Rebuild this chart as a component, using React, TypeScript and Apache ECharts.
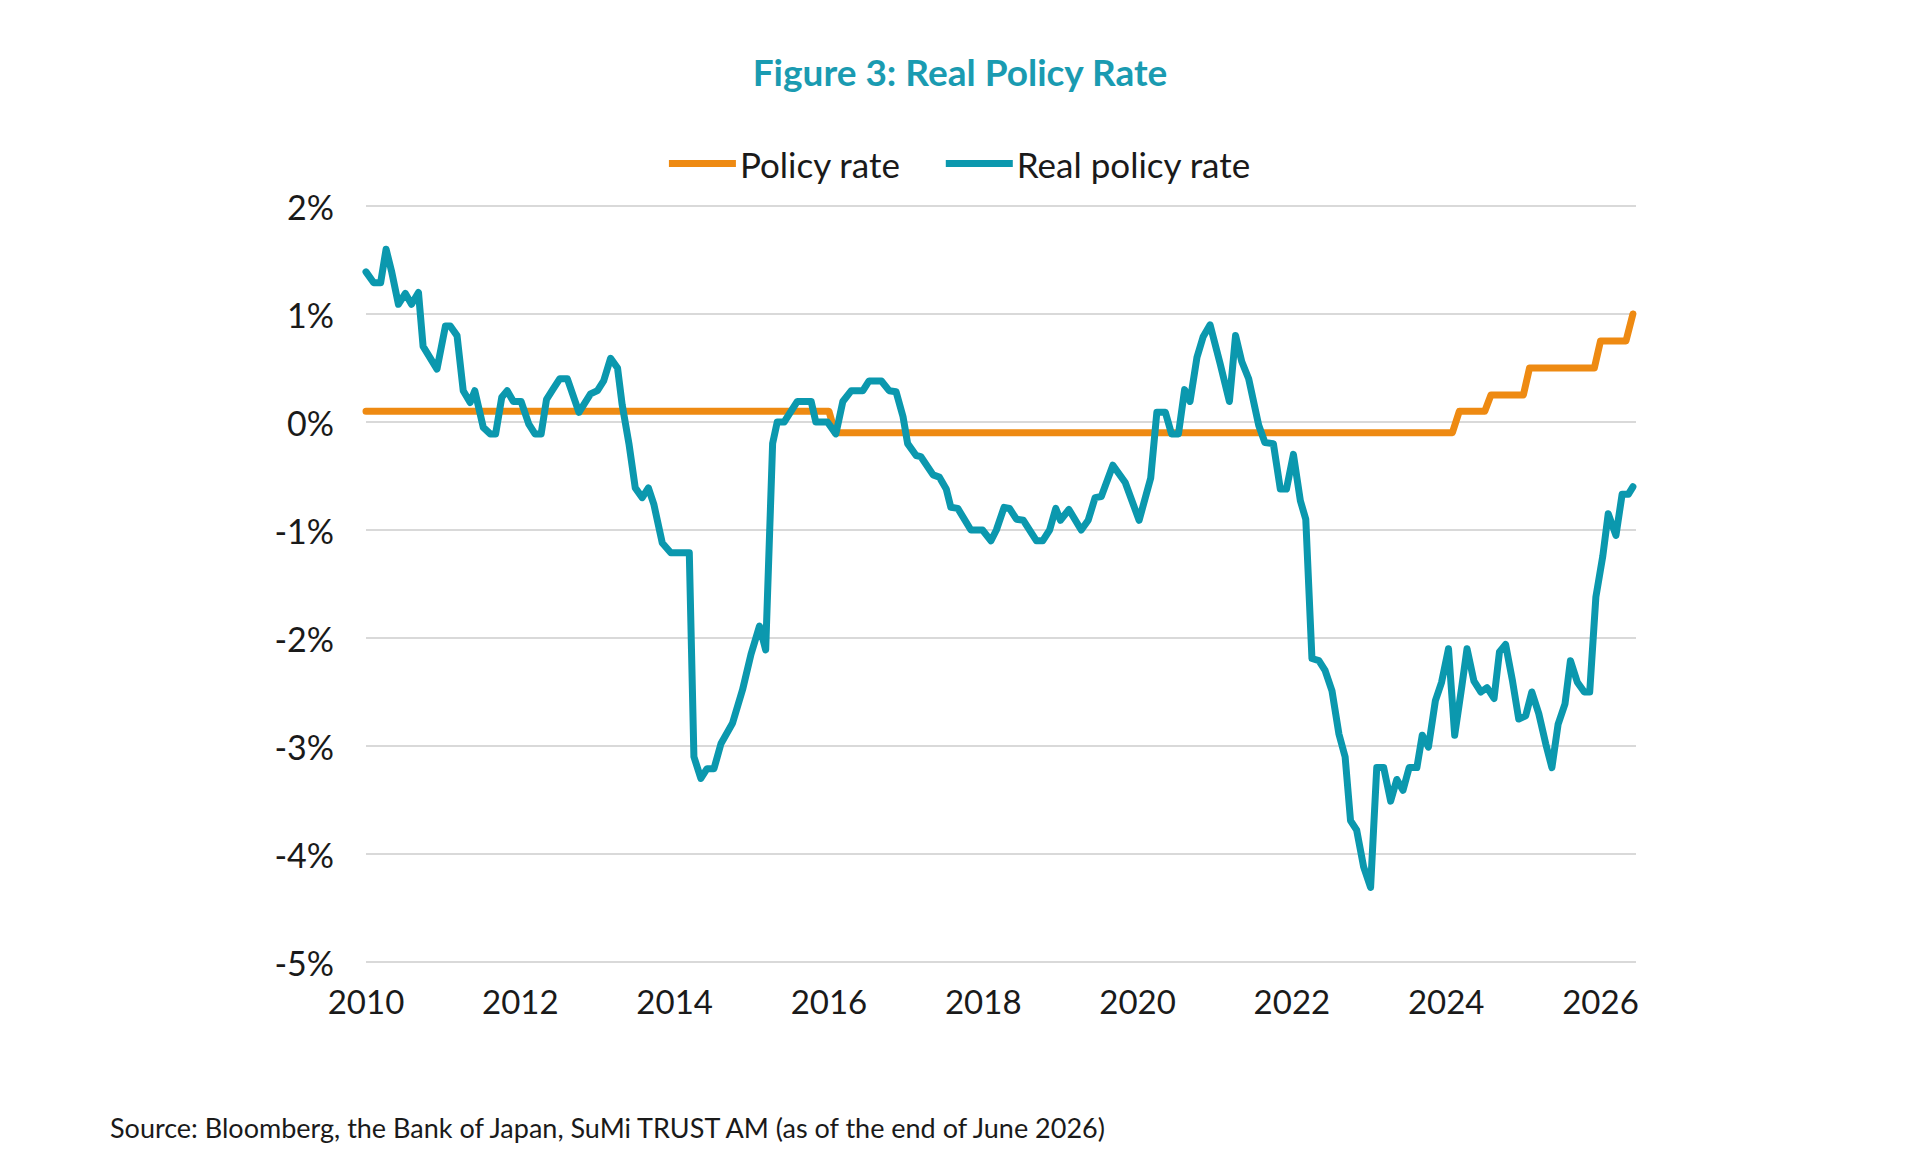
import React, { useEffect, useRef } from "react";
import * as echarts from "echarts";

const TITLE = "Figure 3: Real Policy Rate";
const SOURCE = "Source: Bloomberg, the Bank of Japan, SuMi TRUST AM (as of the end of June 2026)";
const SERIES_NAMES = ["Policy rate", "Real policy rate"];
const Y_TICKS = [-5, -4, -3, -2, -1, 0, 1, 2];
const X_TICKS = [2010, 2012, 2014, 2016, 2018, 2020, 2022, 2024, 2026];

// Policy rate (decimal year, %)
const policyDates = [2010.0, 2016.0, 2016.08, 2024.08, 2024.17, 2024.5, 2024.58, 2025.0, 2025.08, 2025.92, 2026.0, 2026.33, 2026.42];
const policyValues = [0.1, 0.1, -0.1, -0.1, 0.1, 0.1, 0.25, 0.25, 0.5, 0.5, 0.75, 0.75, 1.0];

// Real policy rate (decimal year, %)
const realDates = [
  2010.0, 2010.1, 2010.19, 2010.26, 2010.33, 2010.42, 2010.51, 2010.59, 2010.68, 2010.74, 2010.92,
  2011.03, 2011.09, 2011.18, 2011.26, 2011.35, 2011.41, 2011.52, 2011.61, 2011.68, 2011.76, 2011.83, 2011.91,
  2012.01, 2012.11, 2012.19, 2012.27, 2012.34, 2012.42, 2012.51, 2012.61, 2012.76, 2012.91,
  2013.0, 2013.08, 2013.17, 2013.26, 2013.32, 2013.41, 2013.49, 2013.58, 2013.66, 2013.73, 2013.84, 2013.95,
  2014.19, 2014.25, 2014.34, 2014.42, 2014.51, 2014.6, 2014.75, 2014.88, 2014.99,
  2015.1, 2015.18, 2015.27, 2015.33, 2015.42, 2015.59, 2015.77, 2015.83, 2015.98,
  2016.09, 2016.18, 2016.29, 2016.44, 2016.52, 2016.68, 2016.78, 2016.87, 2016.96,
  2017.02, 2017.13, 2017.19, 2017.35, 2017.43, 2017.52, 2017.58, 2017.67, 2017.84, 2017.99,
  2018.1, 2018.17, 2018.27, 2018.34, 2018.43, 2018.52, 2018.69, 2018.77, 2018.86, 2018.94,
  2019.0, 2019.11, 2019.27, 2019.36, 2019.45, 2019.53, 2019.68, 2019.84,
  2020.02, 2020.17, 2020.25, 2020.36, 2020.44, 2020.53, 2020.61, 2020.68, 2020.77, 2020.85, 2020.94,
  2021.07, 2021.19, 2021.27, 2021.35, 2021.44, 2021.57, 2021.65, 2021.76, 2021.85, 2021.93,
  2022.02, 2022.11, 2022.18, 2022.26, 2022.35, 2022.43, 2022.52, 2022.61, 2022.69, 2022.76, 2022.84, 2022.93,
  2023.02, 2023.1, 2023.19, 2023.28, 2023.36, 2023.44, 2023.52, 2023.62, 2023.69, 2023.77, 2023.86, 2023.94,
  2024.03, 2024.11, 2024.2, 2024.27, 2024.36, 2024.45, 2024.53, 2024.62, 2024.69, 2024.77, 2024.86, 2024.94,
  2025.03, 2025.11, 2025.2, 2025.29, 2025.37, 2025.45, 2025.54, 2025.61, 2025.7, 2025.79, 2025.86, 2025.94,
  2026.03, 2026.1, 2026.2, 2026.28, 2026.36, 2026.42,
];
const realValues = [
  1.39, 1.29, 1.29, 1.6, 1.4, 1.09, 1.19, 1.09, 1.2, 0.7, 0.49,
  0.89, 0.89, 0.8, 0.29, 0.18, 0.29, -0.05, -0.11, -0.11, 0.23, 0.29, 0.19,
  0.19, -0.02, -0.11, -0.11, 0.21, 0.3, 0.4, 0.4, 0.09, 0.26,
  0.29, 0.38, 0.59, 0.5, 0.16, -0.21, -0.61, -0.7, -0.61, -0.76, -1.12, -1.21,
  -1.21, -3.1, -3.3, -3.21, -3.21, -2.98, -2.79, -2.48, -2.15,
  -1.89, -2.11, -0.2, 0.0, 0.0, 0.19, 0.19, 0.0, 0.0,
  -0.11, 0.19, 0.29, 0.29, 0.38, 0.38, 0.29, 0.28, 0.05,
  -0.2, -0.31, -0.32, -0.49, -0.51, -0.62, -0.79, -0.8, -1.0, -1.0,
  -1.1, -1.0, -0.79, -0.8, -0.9, -0.91, -1.1, -1.1, -1.0, -0.8,
  -0.91, -0.81, -1.0, -0.91, -0.7, -0.69, -0.4, -0.56,
  -0.91, -0.52, 0.09, 0.09, -0.11, -0.11, 0.3, 0.19, 0.6, 0.79, 0.9,
  0.54, 0.19, 0.8, 0.56, 0.4, -0.03, -0.19, -0.2, -0.62, -0.62,
  -0.3, -0.73, -0.9, -2.19, -2.21, -2.3, -2.49, -2.89, -3.1, -3.69, -3.78, -4.12,
  -4.31, -3.2, -3.2, -3.51, -3.31, -3.41, -3.2, -3.2, -2.9, -3.01, -2.58, -2.41,
  -2.1, -2.9, -2.46, -2.1, -2.4, -2.5, -2.46, -2.56, -2.13, -2.06, -2.4, -2.75,
  -2.72, -2.5, -2.7, -2.98, -3.2, -2.8, -2.61, -2.21, -2.41, -2.5, -2.5, -1.62,
  -1.24, -0.85, -1.05, -0.67, -0.67, -0.6,
];

const ORANGE = "#EE8A12";
const TEAL = "#0B98AE";
const TEXT = "#1a1a1a";
const FONT = "Lato, 'Noto Sans', sans-serif";

export default function App() {
  const ref = useRef<HTMLDivElement>(null);

  useEffect(() => {
    document.body.style.margin = "0";
    if (!ref.current) return;
    const chart = echarts.init(ref.current, null, { renderer: "svg" });
    const option = {
      animation: false,
      backgroundColor: "#ffffff",
      textStyle: { fontFamily: FONT },
      title: {
        text: TITLE,
        left: "center",
        top: 48,
        textStyle: { fontFamily: FONT, fontSize: 37, fontWeight: "bold", color: "#1A9BB1" },
      },
      legend: {
        top: 146,
        left: "center",
        icon: "rect",
        itemWidth: 67,
        itemHeight: 7,
        itemGap: 45,
        padding: 0,
        textStyle: { fontFamily: FONT, fontSize: 35, color: TEXT, padding: [0, 0, 0, -1] },
        data: SERIES_NAMES,
      },
      grid: { left: 366, right: 284, top: 206, bottom: 190, containLabel: false },
      xAxis: {
        type: "value",
        min: X_TICKS[0],
        max: 2026.46,
        interval: 2,
        axisLine: { show: false },
        axisTick: { show: false },
        splitLine: { show: false },
        axisLabel: {
          fontFamily: FONT,
          fontSize: 33,
          color: TEXT,
          margin: 22,
          formatter: (v: number) => (X_TICKS.indexOf(v) >= 0 ? String(v) : ""),
        },
      },
      yAxis: {
        type: "value",
        min: Y_TICKS[0],
        max: Y_TICKS[Y_TICKS.length - 1],
        interval: 1,
        axisLine: { show: false },
        axisTick: { show: false },
        splitLine: { show: true, lineStyle: { color: "#D9D9D9", width: 2 } },
        axisLabel: {
          fontFamily: FONT,
          fontSize: 34,
          color: TEXT,
          margin: 32,
          formatter: (v: number) => `${v}%`,
        },
      },
      series: [
        {
          name: SERIES_NAMES[0],
          type: "line",
          showSymbol: false,
          data: policyDates.map((d, i) => [d, policyValues[i]]),
          lineStyle: { color: ORANGE, width: 7, join: "round", cap: "round" },
          itemStyle: { color: ORANGE },
        },
        {
          name: SERIES_NAMES[1],
          type: "line",
          showSymbol: false,
          data: realDates.map((d, i) => [d, realValues[i]]),
          lineStyle: { color: TEAL, width: 7, join: "round", cap: "round" },
          itemStyle: { color: TEAL },
        },
      ],
      graphic: [
        {
          type: "text",
          x: 110,
          y: 1127,
          style: {
            text: SOURCE,
            font: `27px ${FONT}`,
            fill: TEXT,
            verticalAlign: "middle",
          },
        },
      ],
    };
    chart.setOption(option as any);
    return () => chart.dispose();
  }, []);

  return <div ref={ref} style={{ width: 1920, height: 1152 }} />;
}
